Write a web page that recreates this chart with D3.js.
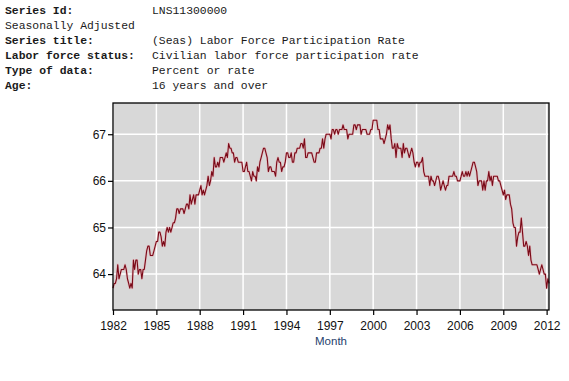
<!DOCTYPE html>
<html>
<head>
<meta charset="utf-8">
<script src="https://cdn.jsdelivr.net/npm/d3@7"></script>
<style>
  html, body { margin: 0; padding: 0; background: #fff; }
  svg { display: block; }
</style>
</head>
<body>
<svg id="chart" width="569" height="381"></svg>
<script>
// ---- Header metadata ----
const headerLabels = ["Series Id:", "Seasonally Adjusted", "Series title:", "Labor force status:", "Type of data:", "Age:"];
const headerValues = ["LNS11300000", "", "(Seas) Labor Force Participation Rate", "Civilian labor force participation rate", "Percent or rate", "16 years and over"];
const headerBold = [true, false, true, true, true, true];

// ---- Data: monthly, seasonally adjusted, starting Jan 1982 ----
const startYear = 1982;
const rate1982_1991 = [
  63.7,63.8,63.8,63.9,64.2,63.9,64.0,64.1,64.1,64.1,64.2,64.1,
  63.9,63.8,63.7,63.8,63.7,64.3,64.1,64.3,64.3,64.0,64.1,64.1,
  63.9,64.1,64.1,64.3,64.5,64.6,64.6,64.4,64.4,64.4,64.5,64.6,
  64.7,64.7,64.9,64.9,64.8,64.6,64.7,64.6,64.9,65.0,64.9,65.0,
  64.9,65.0,65.1,65.1,65.2,65.4,65.4,65.3,65.4,65.4,65.4,65.3,
  65.4,65.5,65.5,65.4,65.7,65.5,65.6,65.7,65.5,65.7,65.7,65.7,
  65.8,65.9,65.7,65.8,65.7,65.8,65.9,66.1,65.9,66.0,66.2,66.1,
  66.5,66.3,66.3,66.4,66.3,66.5,66.5,66.5,66.4,66.5,66.6,66.5,
  66.8,66.7,66.7,66.6,66.6,66.4,66.5,66.5,66.4,66.4,66.4,66.4,
  66.2,66.2,66.3,66.4,66.2,66.2,66.1,66.0,66.2,66.1,66.1,66.0
];
const rate1992_2001 = [
  66.3,66.2,66.4,66.5,66.6,66.7,66.7,66.6,66.5,66.2,66.3,66.3,
  66.2,66.2,66.2,66.1,66.4,66.5,66.4,66.4,66.2,66.3,66.3,66.4,
  66.6,66.6,66.5,66.5,66.6,66.4,66.4,66.6,66.6,66.7,66.7,66.7,
  66.8,66.8,66.7,66.9,66.5,66.5,66.6,66.6,66.6,66.6,66.5,66.4,
  66.4,66.6,66.6,66.6,66.7,66.7,66.9,66.7,66.9,67.0,67.0,67.0,
  67.0,66.9,67.1,67.1,67.0,67.1,67.1,67.0,67.1,67.1,67.1,67.2,
  67.1,67.1,67.1,66.9,67.0,67.0,67.0,67.0,67.2,67.2,67.1,67.2,
  67.2,67.2,67.0,67.1,67.1,67.1,67.1,67.0,67.0,67.0,67.1,67.1,
  67.3,67.3,67.3,67.3,67.1,67.1,66.9,66.9,66.9,66.8,66.9,67.0,
  67.2,67.1,67.2,66.9,66.7,66.7,66.8,66.5,66.8,66.7,66.7,66.7
];
const rate2002_2012 = [
  66.5,66.8,66.6,66.7,66.7,66.6,66.5,66.6,66.7,66.6,66.4,66.3,
  66.4,66.4,66.3,66.4,66.4,66.5,66.2,66.1,66.1,66.1,66.1,65.9,
  66.1,66.0,66.0,65.9,66.0,66.1,66.1,66.0,65.8,65.9,66.0,65.9,
  65.8,65.9,65.9,66.1,66.1,66.1,66.1,66.2,66.1,66.1,66.0,66.0,
  66.0,66.1,66.2,66.1,66.1,66.2,66.1,66.2,66.1,66.2,66.3,66.4,
  66.4,66.3,66.2,65.9,66.0,66.0,66.0,65.8,66.0,65.8,66.0,66.0,
  66.2,66.0,66.1,65.9,66.1,66.1,66.1,66.1,66.0,66.0,65.9,65.8,
  65.7,65.8,65.6,65.7,65.7,65.7,65.5,65.4,65.1,65.0,65.0,64.6,
  64.8,64.9,64.9,65.2,64.9,64.6,64.6,64.7,64.6,64.4,64.6,64.3,
  64.2,64.2,64.2,64.2,64.2,64.1,64.0,64.1,64.2,64.1,64.0,64.0,
  63.7,63.9,63.8
];
const xTickYears = [1982, 1985, 1988, 1991, 1994, 1997, 2000, 2003, 2006, 2009, 2012];
const yTickValues = [64, 65, 66, 67];
const xAxisTitle = "Month";

const values = rate1982_1991.concat(rate1992_2001, rate2002_2012);
const data = values.map((v, i) => ({ date: new Date(Date.UTC(startYear, i, 1)), value: v }));

// ---- Layout ----
const svg = d3.select("#chart");
const plot = { left: 113, top: 103, right: 549, bottom: 310 };

svg.append("rect").attr("width", 569).attr("height", 381).attr("fill", "#fff");

// Header
const header = svg.append("g")
  .attr("font-family", "'Liberation Mono', 'DejaVu Sans Mono', monospace")
  .attr("font-size", "11.4px")
  .attr("fill", "#1a1a1a");
headerLabels.forEach((lab, i) => {
  const y = 14 + i * 15;
  header.append("text").attr("x", 5).attr("y", y)
    .attr("font-weight", headerBold[i] ? "bold" : "normal").text(lab);
  if (headerValues[i]) {
    header.append("text").attr("x", 152).attr("y", y).text(headerValues[i]);
  }
});

// Scales
const x = d3.scaleUtc()
  .domain([new Date(Date.UTC(1982, 0, 1)), new Date(Date.UTC(2012, 2, 1))])
  .range([plot.left, plot.right]);
const y = d3.scaleLinear()
  .domain([63.23, 67.67])
  .range([plot.bottom, plot.top]);

// Background
svg.append("rect")
  .attr("x", plot.left).attr("y", plot.top)
  .attr("width", plot.right - plot.left).attr("height", plot.bottom - plot.top)
  .attr("fill", "#d8d8d8");

// Grid
const xTickDates = xTickYears.map(yr => new Date(Date.UTC(yr, 0, 1)));
svg.append("g").selectAll("line").data(xTickDates).join("line")
  .attr("x1", d => x(d)).attr("x2", d => x(d))
  .attr("y1", plot.top).attr("y2", plot.bottom)
  .attr("stroke", "#fff").attr("stroke-width", 1.5);
svg.append("g").selectAll("line").data(yTickValues).join("line")
  .attr("x1", plot.left).attr("x2", plot.right)
  .attr("y1", d => y(d)).attr("y2", d => y(d))
  .attr("stroke", "#fff").attr("stroke-width", 1.5);

// Line
const line = d3.line().x(d => x(d.date)).y(d => y(d.value));
svg.append("path").datum(data)
  .attr("d", line)
  .attr("fill", "none")
  .attr("stroke", "#e8a0a8")
  .attr("stroke-width", 2.4)
  .attr("stroke-opacity", 0.55)
  .attr("stroke-linejoin", "round");
svg.append("path").datum(data)
  .attr("d", line)
  .attr("fill", "none")
  .attr("stroke", "#7a0a18")
  .attr("stroke-width", 1.1)
  .attr("stroke-linejoin", "round");

// Frame
svg.append("rect")
  .attr("x", plot.left).attr("y", plot.top)
  .attr("width", plot.right - plot.left).attr("height", plot.bottom - plot.top)
  .attr("fill", "none").attr("stroke", "#000").attr("stroke-width", 1.3);

// Axes
const xAxis = d3.axisBottom(x).tickValues(xTickDates)
  .tickFormat(d3.utcFormat("%Y")).tickSize(5).tickPadding(6);
const gx = svg.append("g").attr("transform", `translate(0,${plot.bottom})`).call(xAxis);
const yAxis = d3.axisLeft(y).tickValues(yTickValues)
  .tickFormat(d3.format("d")).tickSize(5).tickPadding(2);
const gy = svg.append("g").attr("transform", `translate(${plot.left},0)`).call(yAxis);
[gx, gy].forEach(g => {
  g.select(".domain").remove();
  g.selectAll(".tick line").attr("stroke", "#000").attr("stroke-width", 1.2);
  g.selectAll(".tick text")
    .attr("font-family", "'Liberation Sans', Arial, sans-serif")
    .attr("font-size", "12px").attr("fill", "#111");
});

// Axis title
svg.append("text")
  .attr("x", (plot.left + plot.right) / 2).attr("y", 345)
  .attr("text-anchor", "middle")
  .attr("font-family", "'Liberation Sans', Arial, sans-serif")
  .attr("font-size", "11.5px").attr("fill", "#1f3f6e")
  .text(xAxisTitle);
</script>
</body>
</html>
